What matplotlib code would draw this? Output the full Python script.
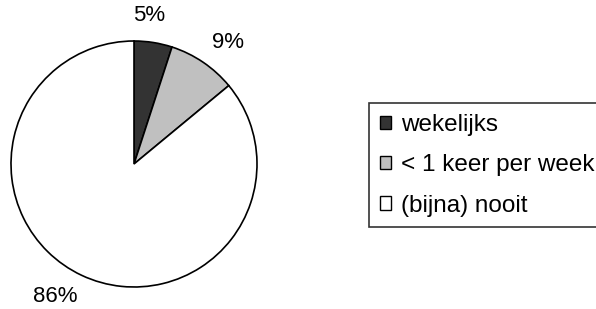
import matplotlib
matplotlib.use("Agg")
import matplotlib.pyplot as plt
from matplotlib.patches import Patch
import numpy as np

categories = ["wekelijks", "< 1 keer per week", "(bijna) nooit"]
values = [5, 9, 86]
colors = ["#333333", "#c0c0c0", "#ffffff"]

plt.rcParams['font.family'] = ['Liberation Sans', 'DejaVu Sans']

W, H = 596, 309
fig = plt.figure(figsize=(W / 100, H / 100), dpi=100)
cx, cy, r = 134, 164, 123
ax = fig.add_axes([(cx - r) / W, (H - cy - r) / H, 2 * r / W, 2 * r / H])
wedges, texts = ax.pie(
    values, colors=colors, startangle=90, counterclock=False,
    wedgeprops=dict(edgecolor='black', linewidth=1.2))
ax.set_xlim(-1, 1)
ax.set_ylim(-1, 1)
ax.set_aspect('equal')
ax.axis('off')

# percentage labels placed outside the pie (Excel-like placement nudges)
label_dist = [1.21, 1.25, 1.25]
angle_nudge = [3.0, -3.3, -5.4]
total = sum(values)
cum = 0
for v, d, nudge in zip(values, label_dist, angle_nudge):
    mid = 90 - (cum + v / 2) / total * 360 + nudge
    cum += v
    a = np.deg2rad(mid)
    ax.text(d * np.cos(a), d * np.sin(a),
            f"{v / total * 100:.0f}%", ha='center', va='center',
            fontsize=16, color='black', clip_on=False)

handles = [Patch(facecolor=c, edgecolor='black', linewidth=1.0) for c in colors]
leg = fig.legend(handles, categories, loc='upper left',
                 bbox_to_anchor=(369 / W, 1 - 103 / H), borderaxespad=0,
                 fontsize=17.5, frameon=True, fancybox=False,
                 handlelength=0.45, handleheight=0.45, handletextpad=0.42,
                 labelspacing=0.76, borderpad=0.44)
leg.get_frame().set_edgecolor('black')
leg.get_frame().set_linewidth(1.2)

fig.savefig('out.png', dpi=100)
